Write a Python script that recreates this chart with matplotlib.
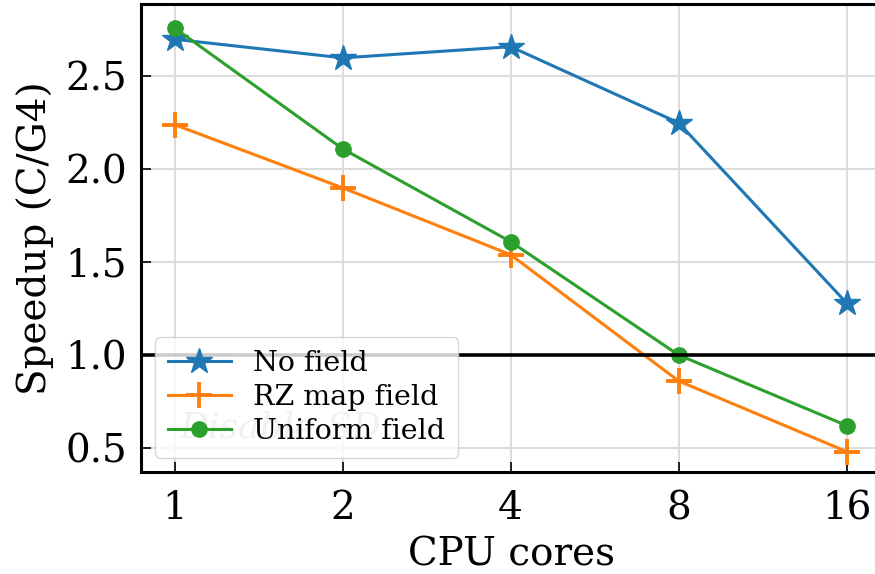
import matplotlib
matplotlib.use("Agg")
import matplotlib.pyplot as plt
import numpy as np

# CPU core counts
cores = [1, 2, 4, 8, 16]
# speedup of C code relative to Geant4
no_field = [2.70, 2.60, 2.66, 2.25, 1.28]
rz_map_field = [2.24, 1.90, 1.54, 0.86, 0.48]
uniform_field = [2.76, 2.11, 1.61, 1.00, 0.62]

plt.rcParams["font.family"] = "DejaVu Serif"

fig = plt.figure(figsize=(8.75, 5.74), dpi=100)
ax = fig.add_axes([141 / 875, 1 - 472 / 574, 740 / 875, 468 / 574])

ax.plot(cores, no_field, "-*", color="C0", lw=2.2, ms=19, label="No field")
ax.plot(cores, rz_map_field, "-+", color="C1", lw=2.2, ms=19, mew=2.8,
        label="RZ map field")
ax.plot(cores, uniform_field, "-o", color="C2", lw=2.2, ms=11,
        label="Uniform field")
ax.axhline(1.0, color="k", lw=2.6)

# faint watermark, mostly hidden behind the legend
ax.text(1.02, 0.61, "Disable SD", style="italic", color="0.72",
        fontsize=26, ha="left", va="center", zorder=1)

ax.set_xscale("log", base=2)
ax.set_xticks(cores)
ax.set_xticklabels([str(c) for c in cores])
ax.set_xlim(0.87, 18.44)
ax.set_ylim(0.37, 2.89)
ax.set_yticks([0.5, 1.0, 1.5, 2.0, 2.5])

ax.grid(color="0.85", lw=1.3)
ax.tick_params(direction="in", labelsize=28, length=7, width=1.2, pad=10)
ax.tick_params(axis="x", pad=13)
ax.tick_params(which="minor", direction="in", length=4, width=1)
for sp in ax.spines.values():
    sp.set_linewidth(2.2)

ax.set_xlabel("CPU cores", fontsize=28, labelpad=7)
ax.set_ylabel("Speedup (C/G4)", fontsize=28, labelpad=8)

leg = ax.legend(loc="lower left", fontsize=20.5, handlelength=2.2,
                labelspacing=0.25, borderpad=0.45)
leg.set_zorder(5)

fig.savefig("out.png", dpi=100)
